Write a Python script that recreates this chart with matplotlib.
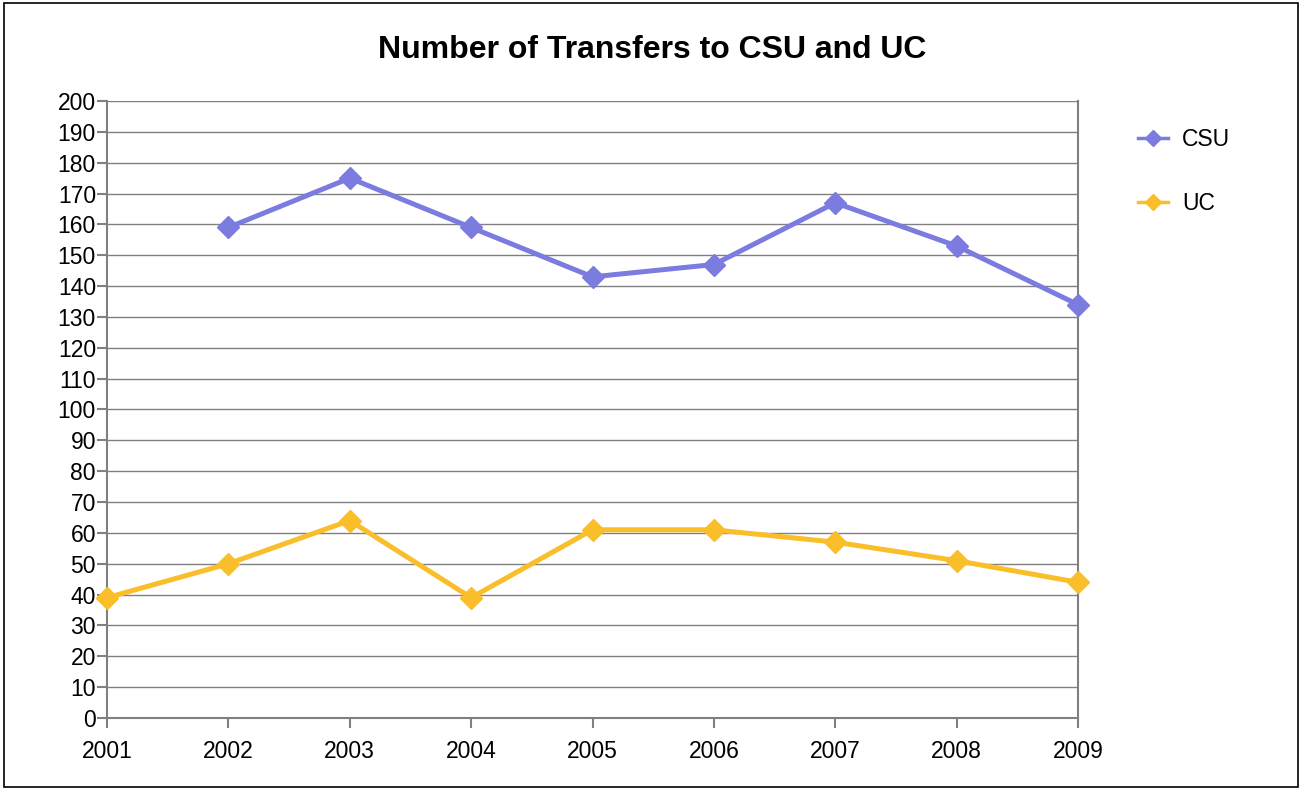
import matplotlib
matplotlib.use("Agg")
import matplotlib.pyplot as plt
from matplotlib.patches import Rectangle

years = [2001, 2002, 2003, 2004, 2005, 2006, 2007, 2008, 2009]
csu_years = [2002, 2003, 2004, 2005, 2006, 2007, 2008, 2009]
csu = [159, 175, 159, 143, 147, 167, 153, 134]
uc = [39, 50, 64, 39, 61, 61, 57, 51, 44]

plt.rcParams['font.family'] = ['Liberation Sans', 'DejaVu Sans']

W, H = 1301, 790
fig = plt.figure(figsize=(W / 100, H / 100), dpi=100)
fig.patches.append(Rectangle((4 / W, 1 - 787 / H), (1298 - 4) / W, (787 - 3) / H,
                             transform=fig.transFigure, fill=False, edgecolor='black', linewidth=1.2))

ax = fig.add_axes([107 / W, 1 - 718 / H, (1078 - 107) / W, (718 - 101) / H])
ax.plot(csu_years, csu, color='#7B7BE0', linewidth=3.6, marker='D', markersize=11, label='CSU',
        clip_on=False, zorder=3)
ax.plot(years, uc, color='#F9BE2A', linewidth=3.6, marker='D', markersize=11, label='UC',
        clip_on=False, zorder=3)

ax.set_xlim(2001, 2009)
ax.set_ylim(0, 200)
ax.set_yticks(range(0, 201, 10))
ax.set_xticks(years)
ax.grid(axis='y', color='#808080', linewidth=1)
ax.set_axisbelow(True)
for s in ['left', 'bottom', 'right']:
    ax.spines[s].set_color('#808080')
    ax.spines[s].set_linewidth(1.5)
ax.spines['top'].set_visible(False)
ax.tick_params(axis='both', colors='#808080', labelcolor='black', labelsize=16.5,
               length=7, width=1.5, pad=1)
ax.tick_params(axis='x', pad=9)

fig.text(652 / W, 1 - 50 / H, 'Number of Transfers to CSU and UC', ha='center', va='center',
         fontsize=23, fontweight='bold')

leg = ax.legend(loc='upper left', bbox_to_anchor=(1.041, 0.99), frameon=False, fontsize=16.5,
                handlelength=1.3, handletextpad=0.6, labelspacing=1.8, markerscale=0.75)
for h in leg.get_lines():
    h.set_linewidth(2.5)

fig.savefig('out.png', dpi=100)
